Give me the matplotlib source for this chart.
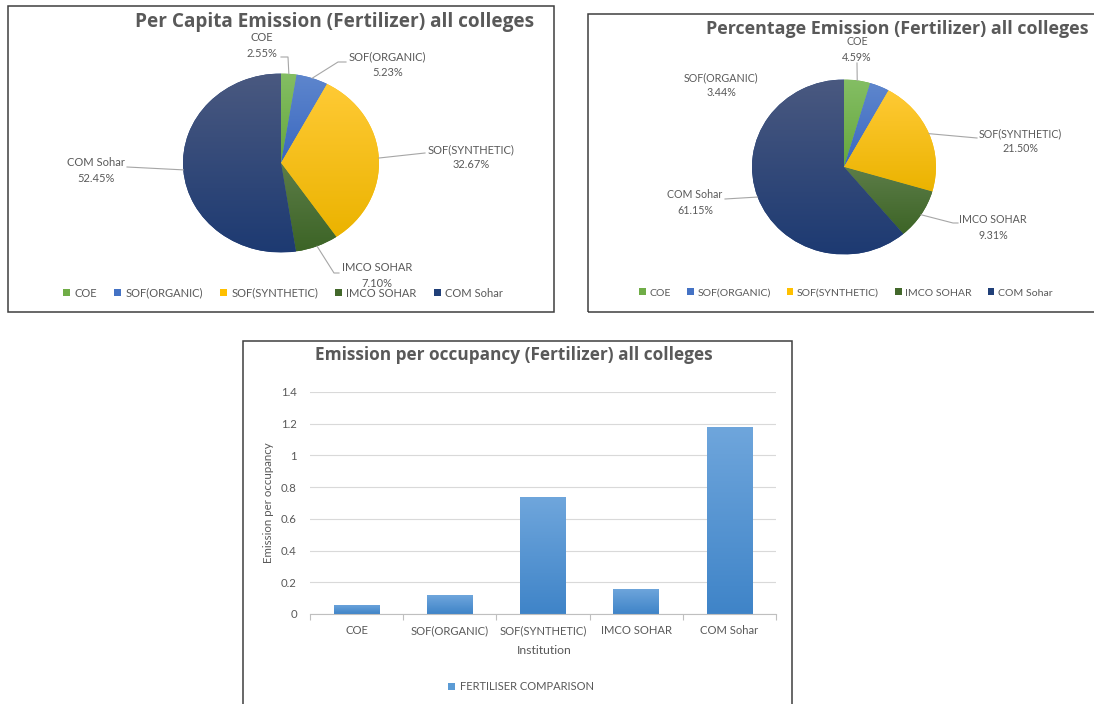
import numpy as np
import matplotlib
matplotlib.use("Agg")
import matplotlib.pyplot as plt
from matplotlib.patches import Rectangle, Patch
from matplotlib.colors import LinearSegmentedColormap

plt.rcParams["font.family"] = ["Lato", "DejaVu Sans"]
TITLE_FONT = ["Open Sans", "DejaVu Sans"]

# ---------------- data ----------------
institutions = ["COE", "SOF(ORGANIC)", "SOF(SYNTHETIC)", "IMCO SOHAR", "COM Sohar"]
per_capita_pct = [2.55, 5.23, 32.67, 7.10, 52.45]
percentage_pct = [4.59, 3.44, 21.50, 9.31, 61.15]
emission_per_occupancy = [0.057, 0.118, 0.735, 0.160, 1.180]
y_ticks = [0, 0.2, 0.4, 0.6, 0.8, 1.0, 1.2, 1.4]
y_tick_labels = ["0", "0.2", "0.4", "0.6", "0.8", "1", "1.2", "1.4"]
bar_series_name = "FERTILISER COMPARISON"

# ---------------- style ----------------
W, H = 1094, 704
TEXT = "#595959"
slice_colors = ["#70AD47", "#4472C4", "#FFC000", "#43682B", "#203F78"]
slice_grad = [("#84BE64", "#66A73D"), ("#5E86CD", "#3A68C0"),
              ("#FFCA35", "#EBB300"), ("#5D7D48", "#3C6426"),
              ("#4A5980", "#1D3A72")]
bar_grad = ("#6FA6DC", "#3F84C8")

fig = plt.figure(figsize=(W / 100, H / 100), dpi=100)


def fig_box(x0, y0, x1, y1):
    return [x0 / W, 1 - y1 / H, (x1 - x0) / W, (y1 - y0) / H]


def fig_pt(x, y):
    return (x / W, 1 - y / H)


def frame(x0, y0, x1, y1):
    fig.add_artist(Rectangle((x0 / W, 1 - y1 / H), (x1 - x0) / W, (y1 - y0) / H,
                             transform=fig.transFigure, fill=False,
                             ec="#3F3F3F", lw=1.1))


def gradient_fill(ax, patch, x0, x1, y0, y1, top, bottom, z):
    cmap = LinearSegmentedColormap.from_list("g", [bottom, top])
    grad = np.linspace(0, 1, 256).reshape(-1, 1)
    im = ax.imshow(grad, extent=(x0, x1, y0, y1), origin="lower", cmap=cmap,
                   aspect="auto", zorder=z, interpolation="bilinear")
    im.set_clip_path(patch)


def draw_pie(cx, cy, rx, ry, values, layout, fs):
    ax = fig.add_axes(fig_box(cx - rx, cy - ry, cx + rx, cy + ry))
    wedges, _ = ax.pie(values, startangle=90, counterclock=False,
                       colors=slice_colors, radius=1,
                       wedgeprops=dict(linewidth=0))
    for w, (top, bot) in zip(wedges, slice_grad):
        th = np.radians(np.linspace(w.theta1, w.theta2, 200))
        ys = np.concatenate([[0.0], np.sin(th)])
        gradient_fill(ax, w, -1, 1, ys.min(), ys.max(), top, bot, 2)
    ax.set_aspect("auto")
    ax.set_xlim(-1, 1)
    ax.set_ylim(-1, 1)
    ax.axis("off")

    def to_data(px, py):
        return ((px - cx) / rx, (cy - py) / ry)

    for w, name, val, (lab, route) in zip(wedges, institutions, values, layout):
        mid = np.radians((w.theta1 + w.theta2) / 2)
        if route:
            pts = [(np.cos(mid), np.sin(mid))] + [to_data(*p) for p in route]
            xs, ys = zip(*pts)
            ax.plot(xs, ys, color="#A6A6A6", lw=0.8, clip_on=False, zorder=3)
        lx, ly = to_data(*lab)
        ax.text(lx, ly, f"{name}\n{val:.2f}%", ha="center", va="center",
                fontsize=fs, color=TEXT, linespacing=1.45, clip_on=False)
    return ax


def pie_legend(cx, cy, fs, spacing):
    handles = [Patch(fc=c, ec="none") for c in slice_colors]
    fig.legend(handles, institutions, loc="center", bbox_to_anchor=fig_pt(cx, cy),
               ncol=5, frameon=False, fontsize=fs, labelcolor=TEXT,
               handlelength=0.65, handleheight=0.65, handletextpad=0.35,
               columnspacing=spacing, borderpad=0, borderaxespad=0)


# ---------------- panel frames ----------------
frame(8, 6, 554, 312)
frame(588, 14, 1110, 312)
frame(243, 341, 792, 720)

# ---------------- pie 1 ----------------
fig.text(*fig_pt(334.5, 22), "Per Capita Emission (Fertilizer) all colleges",
         ha="center", va="center", fontsize=13.7, fontweight="bold", color=TEXT,
         family=TITLE_FONT)
layout1 = [
    ((262, 45.5), [(288, 57), (281, 57)]),
    ((387.5, 64.5), [(338, 62), (346, 62)]),
    ((471, 157), [(425, 153)]),
    ((377, 275.5), [(334, 273), (339, 273)]),
    ((96, 170.5), [(127, 167)]),
]
draw_pie(281, 163, 98, 89.5, per_capita_pct, layout1, 8.0)
pie_legend(283, 293, 8.0, 1.55)

# ---------------- pie 2 ----------------
fig.text(*fig_pt(706, 29), "Percentage Emission (Fertilizer) all colleges",
         ha="left", va="center", fontsize=12.85, fontweight="bold", color=TEXT,
         family=TITLE_FONT)
layout2 = [
    ((857, 49.5), [(857, 63)]),
    ((721, 85), None),
    ((1020, 141), [(977, 138)]),
    ((993, 227.5), [(953, 223), (958, 223)]),
    ((695, 202.5), [(725, 199)]),
]
draw_pie(844, 167, 92, 87.5, percentage_pct, layout2, 7.7)
pie_legend(846, 293, 7.55, 1.5)

# ---------------- bar chart ----------------
fig.text(*fig_pt(514, 355), "Emission per occupancy (Fertilizer) all colleges",
         ha="center", va="center", fontsize=12.4, fontweight="bold", color=TEXT,
         family=TITLE_FONT)
ax = fig.add_axes(fig_box(310, 392, 776, 614))
xpos = np.arange(len(institutions))
bars = ax.bar(xpos, emission_per_occupancy, width=0.49, color="#5B9BD5",
              linewidth=0, zorder=2)
for b in bars:
    gradient_fill(ax, b, b.get_x(), b.get_x() + b.get_width(), 0, b.get_height(),
                  bar_grad[0], bar_grad[1], 2.1)
ax.set_xlim(-0.5, len(institutions) - 0.5)
ax.set_ylim(0, 1.4)
ax.set_yticks(y_ticks, y_tick_labels)
ax.set_xticks(xpos, institutions)
ax.set_xticks(np.arange(-0.5, len(institutions), 1), minor=True)
ax.tick_params(axis="y", length=0, pad=9.5, labelsize=8.2, labelcolor=TEXT)
ax.tick_params(axis="x", which="major", length=0, pad=8, labelsize=8.1, labelcolor=TEXT)
ax.tick_params(axis="x", which="minor", length=4, color="#BFBFBF", width=0.8)
ax.yaxis.grid(True, color="#D9D9D9", lw=0.8)
ax.set_axisbelow(True)
for s in ("left", "right", "top"):
    ax.spines[s].set_visible(False)
ax.spines["bottom"].set_color("#BFBFBF")
ax.spines["bottom"].set_linewidth(0.8)
ax.spines["bottom"].set_zorder(3)
fig.text(*fig_pt(269, 503), "Emission per occupancy", rotation=90,
         ha="center", va="center", fontsize=8.3, color=TEXT)
fig.text(*fig_pt(544, 650), "Institution", ha="center", va="center",
         fontsize=8.8, color=TEXT)
fig.legend([Patch(fc="#5B9BD5", ec="none")], [bar_series_name], loc="center",
           bbox_to_anchor=fig_pt(521, 687), frameon=False, fontsize=8.0,
           labelcolor=TEXT, handlelength=0.65, handleheight=0.65,
           handletextpad=0.4, borderpad=0, borderaxespad=0)

fig.savefig("out.png", dpi=100, facecolor="white")
